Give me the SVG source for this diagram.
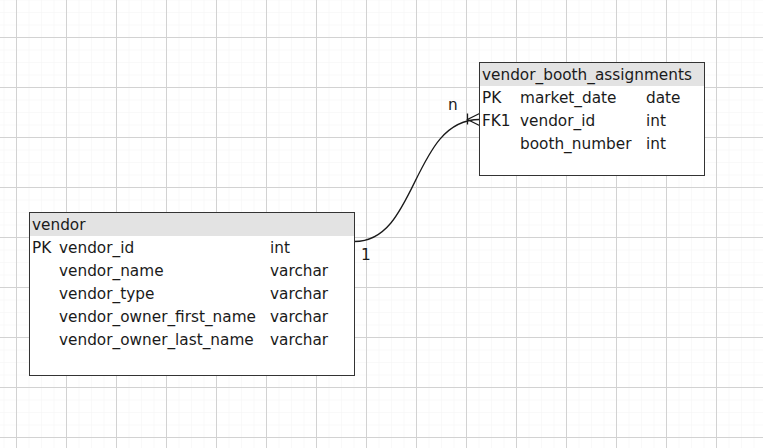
<svg xmlns="http://www.w3.org/2000/svg" width="763" height="448" viewBox="0 0 763 448">
<style>
.box{fill:#ffffff;stroke:#333333;stroke-width:1}
.hdr{fill:#e3e3e3;stroke:none}
.t{font-family:"DejaVu Sans",Verdana,sans-serif;font-size:15.3px;fill:#1a1a1a}
.conn{fill:none;stroke:#1a1a1a;stroke-width:1.3}
</style>
<defs>
<pattern id="minor" x="16" y="37" width="12.5" height="12.5" patternUnits="userSpaceOnUse">
<path d="M0 0V12.5M0 0H12.5" fill="none" stroke="#f3f3f3" stroke-width="1"/>
</pattern>
<pattern id="major" x="16" y="37" width="50" height="50" patternUnits="userSpaceOnUse">
<path d="M0.5 0V50M0 0.5H50" fill="none" stroke="#d2d2d2" stroke-width="1"/>
</pattern>
</defs>
<rect width="763" height="448" fill="#ffffff"/>
<rect width="763" height="448" fill="url(#minor)"/>
<rect width="763" height="448" fill="url(#major)"/>

<g id="connectors">
<path class="conn" d="M354.5 241.5 C418 241.5 412 119.5 479.5 119.5"/>
<path class="conn" d="M479.5 113.5 L467.5 119.5 L479.5 125.5 M467.5 113.5 V124.5"/>
<text class="t" x="448" y="110">n</text>
<text class="t" x="361" y="260">1</text>
</g>

<g id="vendor_booth_assignments">
<rect class="box" x="479.5" y="62.5" width="225" height="113"/>
<rect class="hdr" x="480" y="63" width="224" height="23"/>
<text class="t" x="482" y="80">vendor_booth_assignments</text>
<text class="t" x="482" y="103">PK</text>
<text class="t" x="520" y="103">market_date</text>
<text class="t" x="646" y="103">date</text>
<text class="t" x="482" y="126">FK1</text>
<text class="t" x="520" y="126">vendor_id</text>
<text class="t" x="646" y="126">int</text>
<text class="t" x="520" y="149">booth_number</text>
<text class="t" x="646" y="149">int</text>
</g>

<g id="vendor">
<rect class="box" x="29.5" y="212.5" width="325" height="163"/>
<rect class="hdr" x="30" y="213" width="324" height="23"/>
<text class="t" x="32" y="230">vendor</text>
<text class="t" x="32" y="253">PK</text>
<text class="t" x="59" y="253">vendor_id</text>
<text class="t" x="270" y="253">int</text>
<text class="t" x="59" y="276">vendor_name</text>
<text class="t" x="270" y="276">varchar</text>
<text class="t" x="59" y="299">vendor_type</text>
<text class="t" x="270" y="299">varchar</text>
<text class="t" x="59" y="322">vendor_owner_first_name</text>
<text class="t" x="270" y="322">varchar</text>
<text class="t" x="59" y="345">vendor_owner_last_name</text>
<text class="t" x="270" y="345">varchar</text>
</g>
</svg>
